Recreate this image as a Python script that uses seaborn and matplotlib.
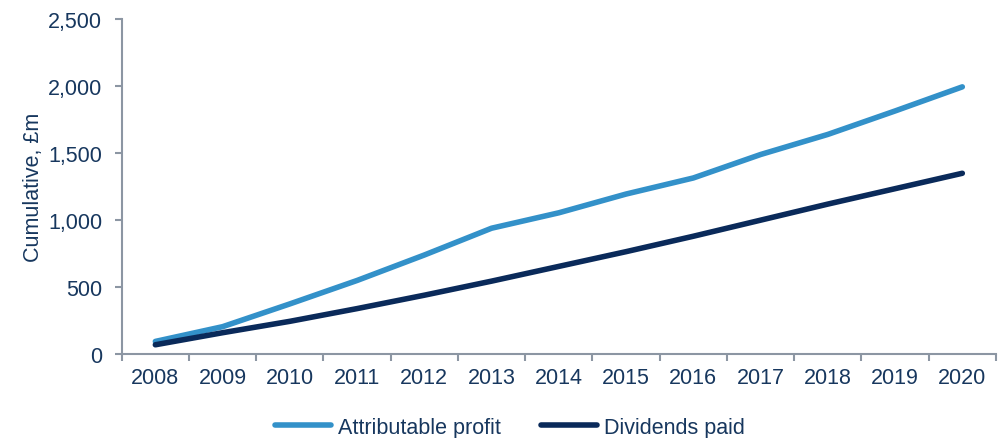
import pandas as pd
import numpy as np
import matplotlib.pyplot as plt
import seaborn as sns
from matplotlib.ticker import FixedLocator, FuncFormatter

# Data (cumulative, £m)
years = ['2008', '2009', '2010', '2011', '2012', '2013', '2014',
         '2015', '2016', '2017', '2018', '2019', '2020']
attributable_profit = [95, 205, 375, 550, 740, 940, 1055, 1195, 1315, 1490, 1640, 1815, 1995]
dividends_paid = [70, 160, 245, 340, 440, 545, 655, 765, 880, 1000, 1120, 1235, 1350]

df = pd.DataFrame({
    'idx': list(range(len(years))) * 2,
    'value': attributable_profit + dividends_paid,
    'series': ['Attributable profit'] * len(years) + ['Dividends paid'] * len(years),
})

sns.set_style('white')
plt.rcParams['font.family'] = ['Liberation Sans', 'DejaVu Sans']

text_color = '#17375E'
axis_color = '#8C96A3'
palette = {'Attributable profit': '#3391C9', 'Dividends paid': '#0A2A5A'}
fs = 15.5

fig = plt.figure(figsize=(10.06, 4.39), dpi=100)
ax = fig.add_axes([0.121, 0.191, 0.869, 0.763])

sns.lineplot(data=df, x='idx', y='value', hue='series', palette=palette,
             linewidth=4, solid_capstyle='round', ax=ax)

ax.set_xlim(-0.5, len(years) - 0.5)
ax.set_ylim(0, 2500)
ax.set_yticks(np.arange(0, 2501, 500))
ax.yaxis.set_major_formatter(FuncFormatter(lambda v, p: f'{int(v):,}'))
ax.set_xticks(range(len(years)))
ax.set_xticklabels(years)
ax.xaxis.set_minor_locator(FixedLocator(np.arange(-0.5, len(years), 1.0)))

ax.tick_params(axis='x', which='major', length=0, pad=9, labelsize=fs, labelcolor=text_color)
ax.tick_params(axis='x', which='minor', length=5, width=1.5, color=axis_color, direction='out', bottom=True)
ax.tick_params(axis='y', which='major', length=5, width=1.5, color=axis_color, direction='out', left=True,
               pad=9, labelsize=fs, labelcolor=text_color)

for side in ['top', 'right']:
    ax.spines[side].set_visible(False)
for side in ['left', 'bottom']:
    ax.spines[side].set_color(axis_color)
    ax.spines[side].set_linewidth(1.5)

ax.set_xlabel('')
ax.set_ylabel('Cumulative, £m', fontsize=fs, color=text_color, labelpad=3)

handles, labels = ax.get_legend_handles_labels()
ax.get_legend().remove()
leg = fig.legend(handles, labels, loc='center', bbox_to_anchor=(0.507, 0.025), ncol=2, frameon=False,
                 fontsize=fs, handlelength=2.6, handletextpad=0.3, columnspacing=1.9,
                 borderpad=0, borderaxespad=0)
for text in leg.get_texts():
    text.set_color(text_color)

fig.savefig('out.png', dpi=100)
